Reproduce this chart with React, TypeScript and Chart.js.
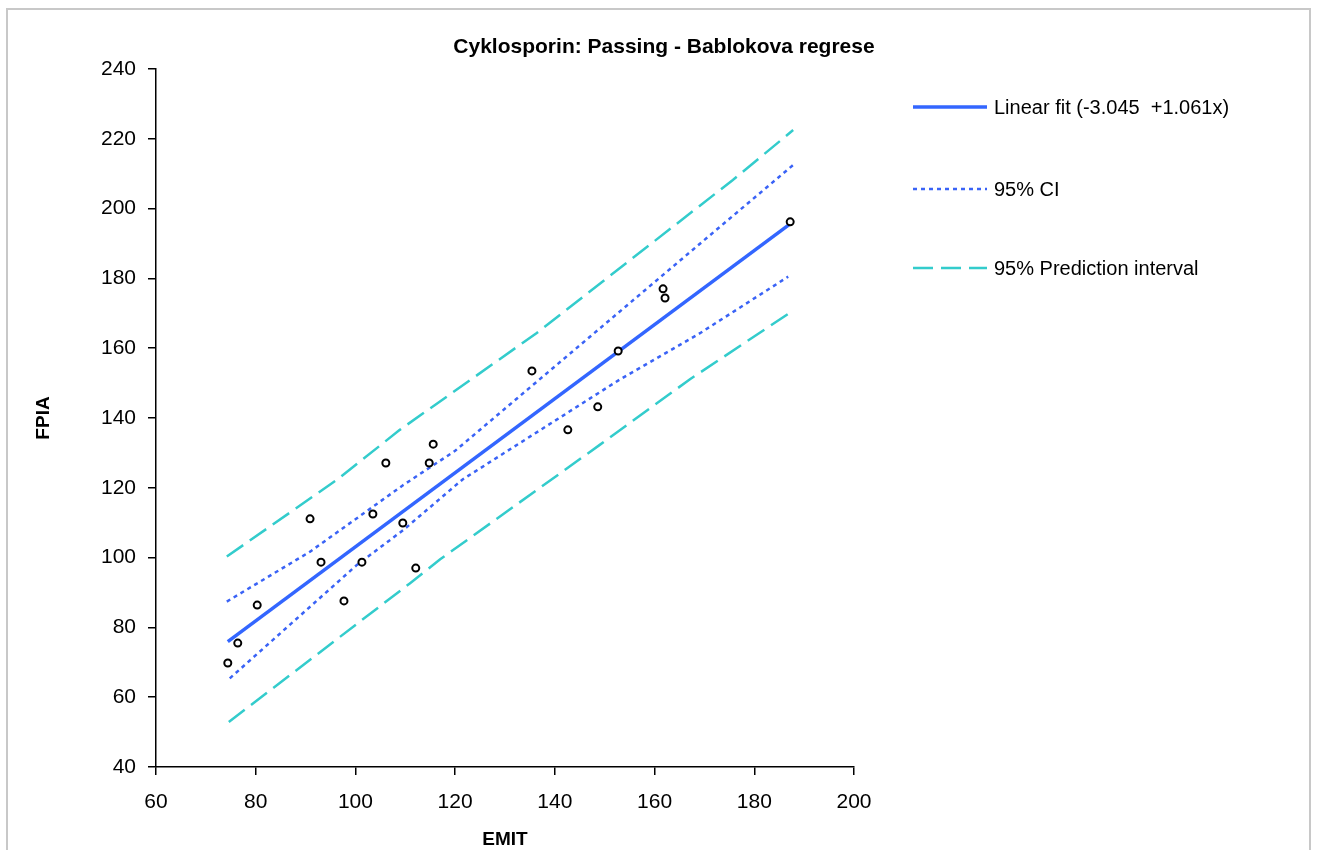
import React, { useEffect, useRef } from "react";
import { Chart, registerables } from "chart.js";

Chart.register(...registerables);

const pointsX = [74.4, 76.4, 80.3, 90.9, 93.1, 97.7, 101.3, 103.5, 106.1, 109.5, 112.1, 114.8, 115.6, 135.4, 142.6, 148.6, 152.7, 161.7, 162.1, 187.2];
const pointsY = [69.8, 75.5, 86.4, 111.1, 98.7, 87.6, 98.7, 112.5, 127.1, 109.9, 97.0, 127.1, 132.5, 153.5, 136.6, 143.2, 159.2, 177.0, 174.4, 196.2];

const fitX = [74.4, 187.2];
const fitY = [75.9, 195.6];

const ciUpperX = [74.2, 90.9, 109.6, 120.0, 161.7, 187.8];
const ciUpperY = [87.4, 101.7, 120.8, 130.6, 181.0, 212.5];
const ciLowerX = [74.8, 100.3, 109.6, 121.5, 153.1, 169.1, 186.8];
const ciLowerY = [65.4, 97.9, 107.9, 122.4, 151.1, 164.3, 180.5];

const piUpperX = [74.2, 96.2, 108.9, 136.3, 175.7, 187.8];
const piUpperY = [100.3, 122.2, 136.6, 164.3, 208.2, 222.5];
const piLowerX = [74.6, 110.9, 117.0, 149.0, 167.1, 187.5];
const piLowerY = [52.9, 92.6, 99.5, 132.3, 151.1, 170.5];

const xTicks = [60, 80, 100, 120, 140, 160, 180, 200];
const yTicks = [40, 60, 80, 100, 120, 140, 160, 180, 200, 220, 240];

const titleText = "Cyklosporin: Passing - Bablokova regrese";
const xTitle = "EMIT";
const yTitle = "FPIA";
const legendLabels = ["Linear fit (-3.045  +1.061x)", "95% CI", "95% Prediction interval"];

const FONT = '"Liberation Sans", Arial, Helvetica, sans-serif';
const FIT_COLOR = "#3366FF";
const CI_COLOR = "#3A63F6";
const PI_COLOR = "#33CCCC";
const CI_DASH = [4, 4];
const PI_DASH = [20, 8];

const zip = (xs: number[], ys: number[]) => xs.map((x, i) => ({ x, y: ys[i] }));

const decorPlugin = {
  id: "decor",
  afterDraw(chart: any) {
    const ctx = chart.ctx;
    const area = chart.chartArea;
    ctx.save();
    // outer frame
    ctx.strokeStyle = "#c8c8c8";
    ctx.lineWidth = 2;
    ctx.strokeRect(7, 9, 1303, 860);

    const cx = (area.left + area.right) / 2;
    ctx.fillStyle = "#000";
    ctx.textAlign = "center";
    ctx.textBaseline = "middle";
    ctx.font = `bold 21px ${FONT}`;
    ctx.fillText(titleText, 664, 47);

    ctx.font = `bold 19px ${FONT}`;
    ctx.fillText(xTitle, cx, 840);
    ctx.save();
    ctx.translate(44, (area.top + area.bottom) / 2);
    ctx.rotate(-Math.PI / 2);
    ctx.fillText(yTitle, 0, 0);
    ctx.restore();

    // legend
    const lx0 = 913;
    const lx1 = 987;
    const rows = [107, 189, 268];
    const styles = [
      { color: FIT_COLOR, width: 3.5, dash: [] as number[] },
      { color: CI_COLOR, width: 2.5, dash: CI_DASH },
      { color: PI_COLOR, width: 2.5, dash: PI_DASH },
    ];
    ctx.textAlign = "left";
    ctx.font = `20px ${FONT}`;
    rows.forEach((ry, i) => {
      const s = styles[i];
      ctx.beginPath();
      ctx.setLineDash(s.dash);
      ctx.strokeStyle = s.color;
      ctx.lineWidth = s.width;
      ctx.moveTo(lx0, ry);
      ctx.lineTo(lx1, ry);
      ctx.stroke();
      ctx.setLineDash([]);
      ctx.fillStyle = "#000";
      ctx.fillText(legendLabels[i], 994, ry + 1);
    });
    ctx.restore();
  },
};

export default function App() {
  const ref = useRef<HTMLCanvasElement | null>(null);
  useEffect(() => {
    if (!ref.current) return;
    const lineDs = (label: string, xs: number[], ys: number[], color: string, width: number, dash: number[]) => ({
      label,
      data: zip(xs, ys),
      showLine: true,
      borderColor: color,
      backgroundColor: color,
      borderWidth: width,
      borderDash: dash,
      pointRadius: 0,
      pointHoverRadius: 0,
      fill: false,
      tension: 0,
    });
    const chart = new Chart(ref.current, {
      type: "scatter",
      data: {
        datasets: [
          {
            label: "data",
            data: zip(pointsX, pointsY),
            pointStyle: "circle",
            pointRadius: 3.5,
            pointBorderColor: "#000",
            pointBackgroundColor: "#fff",
            pointBorderWidth: 2,
            borderColor: "#000",
            backgroundColor: "#fff",
            showLine: false,
            order: 0,
          } as any,
          { ...lineDs(legendLabels[0], fitX, fitY, FIT_COLOR, 3.5, []), order: 1 },
          { ...lineDs(legendLabels[1], ciUpperX, ciUpperY, CI_COLOR, 2.5, CI_DASH), order: 2 },
          { ...lineDs(legendLabels[1], ciLowerX, ciLowerY, CI_COLOR, 2.5, CI_DASH), order: 2 },
          { ...lineDs(legendLabels[2], piUpperX, piUpperY, PI_COLOR, 2.5, PI_DASH), order: 3 },
          { ...lineDs(legendLabels[2], piLowerX, piLowerY, PI_COLOR, 2.5, PI_DASH), order: 3 },
        ],
      },
      options: {
        responsive: false,
        animation: false,
        layout: { padding: { left: 0, top: 69, right: 463, bottom: 0 } },
        plugins: {
          legend: { display: false },
          title: { display: false },
          tooltip: { enabled: false },
        },
        scales: {
          x: {
            type: "linear",
            min: xTicks[0],
            max: xTicks[xTicks.length - 1],
            afterFit: (s: any) => {
              s.height = 83;
            },
            afterBuildTicks: (s: any) => {
              s.ticks = xTicks.map((v) => ({ value: v }));
            },
            grid: { drawOnChartArea: false, drawTicks: true, tickLength: 8, color: "#000", lineWidth: 1.5 },
            border: { display: true, color: "#000", width: 1.5 },
            ticks: { color: "#000", font: { family: FONT, size: 21 }, padding: 15, maxRotation: 0 },
          },
          y: {
            type: "linear",
            min: yTicks[0],
            max: yTicks[yTicks.length - 1],
            afterFit: (s: any) => {
              s.width = 156;
            },
            afterBuildTicks: (s: any) => {
              s.ticks = yTicks.map((v) => ({ value: v }));
            },
            grid: { drawOnChartArea: false, drawTicks: true, tickLength: 8, color: "#000", lineWidth: 1.5 },
            border: { display: true, color: "#000", width: 1.5 },
            ticks: { color: "#000", font: { family: FONT, size: 21 }, padding: 12 },
          },
        },
      },
      plugins: [decorPlugin],
    } as any);
    return () => chart.destroy();
  }, []);
  return (
    <div style={{ position: "absolute", left: 0, top: 0, width: 1317, height: 850, background: "#fff", overflow: "hidden" }}>
      <canvas ref={ref} width={1317} height={850} style={{ display: "block" }} />
    </div>
  );
}
